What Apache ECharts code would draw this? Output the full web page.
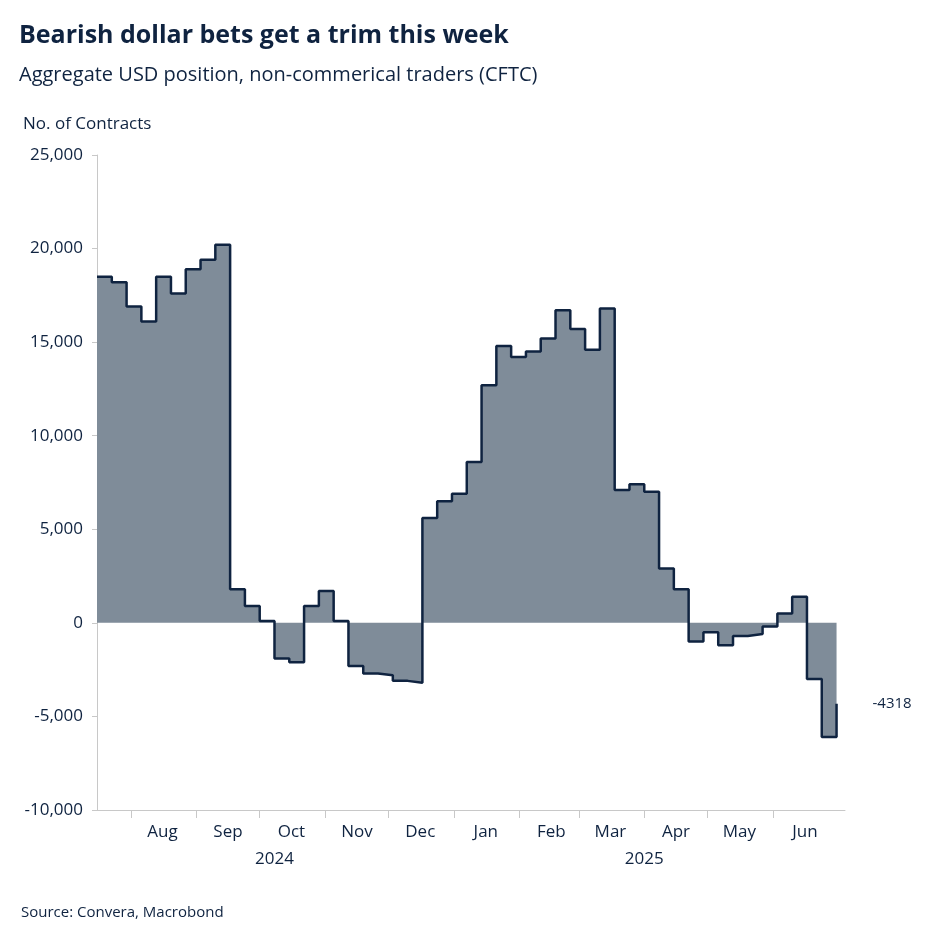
<!DOCTYPE html>
<html><head><meta charset="utf-8">
<script src="https://cdn.jsdelivr.net/npm/echarts@6/dist/echarts.min.js"></script>
<style>html,body{margin:0;background:#fff}#c{width:938px;height:938px}</style>
</head><body><div id="c"></div>
<script>
const startDate = '2024-07-16';
const positions = [18500,18200,16900,16100,18500,17600,18900,19400,20200,1800,
  900,100,-1900,-2100,900,1700,100,-2300,-2700,-2800,
  -3100,-3200,5600,6500,6900,8600,12700,14800,14200,14500,
  15200,16700,15700,14600,16800,7100,7400,7000,2900,1800,
  -1000,-500,-1200,-700,-600,-200,500,1400,-3000,-6100,-4318];
const monthStarts = ['2024-08-01','2024-09-01','2024-10-01','2024-11-01','2024-12-01','2025-01-01',
  '2025-02-01','2025-03-01','2025-04-01','2025-05-01','2025-06-01'];
const monthMids = ['2024-08-16','2024-09-16','2024-10-16','2024-11-16','2024-12-16','2025-01-16',
  '2025-02-16','2025-03-16','2025-04-16','2025-05-16','2025-06-16'];
const yearLabels = ['2024-10-08','2025-04-01'];
const monthNames = ['Jan','Feb','Mar','Apr','May','Jun','Jul','Aug','Sep','Oct','Nov','Dec'];

const t0 = Date.parse(startDate);
const data = positions.map((v, i) => [t0 + i * 7 * 864e5, v]);
const ts = s => Date.parse(s);
const font = 'Open Sans';
const dark = '#0f2340';
const xMin = t0, xMax = ts('2025-07-05');

const chart = echarts.init(document.getElementById('c'));
chart.setOption({
  textStyle: { fontFamily: font },
  title: [
    { text: 'Bearish dollar bets get a trim this week', left: 14, top: 18,
      textStyle: { fontSize: 25, fontWeight: 'bold', color: dark, fontFamily: font } },
    { text: 'Aggregate USD position, non-commerical traders (CFTC)', left: 14, top: 60,
      textStyle: { fontSize: 20, fontWeight: 'normal', color: dark, fontFamily: font } },
    { text: 'No. of Contracts', left: 18, top: 111,
      textStyle: { fontSize: 17, fontWeight: 'normal', color: dark, fontFamily: font } },
    { text: 'Source: Convera, Macrobond', left: 16, top: 900,
      textStyle: { fontSize: 15, fontWeight: 'normal', color: dark, fontFamily: font } }
  ],
  grid: { left: 97, right: 93, top: 155, bottom: 128 },
  xAxis: [
    { type: 'value', min: xMin, max: xMax,
      axisLine: { onZero: false, lineStyle: { color: '#c8c8c8' } },
      axisTick: { show: true, length: 8, lineStyle: { color: '#c8c8c8' },
        customValues: monthStarts.map(ts) },
      axisLabel: { color: dark, fontSize: 17, margin: 14, customValues: monthMids.map(ts),
        formatter: v => monthNames[new Date(v).getUTCMonth()] },
      splitLine: { show: false } },
    { type: 'value', min: xMin, max: xMax, position: 'bottom', offset: 33,
      axisLine: { show: false }, axisTick: { show: false }, splitLine: { show: false },
      axisLabel: { color: dark, fontSize: 17, customValues: yearLabels.map(ts),
        formatter: v => String(new Date(v).getUTCFullYear()) } }
  ],
  yAxis: {
    type: 'value', min: -10000, max: 25000, interval: 5000,
    axisLine: { show: true, lineStyle: { color: '#c8c8c8' } },
    axisTick: { show: true, length: 5, lineStyle: { color: '#c8c8c8' } },
    axisLabel: { color: dark, fontSize: 17, margin: 14 },
    splitLine: { show: false }
  },
  series: [{
    type: 'line', step: 'end', data: data, symbol: 'none',
    lineStyle: { color: dark, width: 2.5 },
    areaStyle: { color: '#7f8c99', opacity: 1 },
    endLabel: { show: true, color: dark, fontSize: 15, distance: 36,
      formatter: p => String(p.value[1]) }
  }],
  animation: false
});
</script></body></html>
